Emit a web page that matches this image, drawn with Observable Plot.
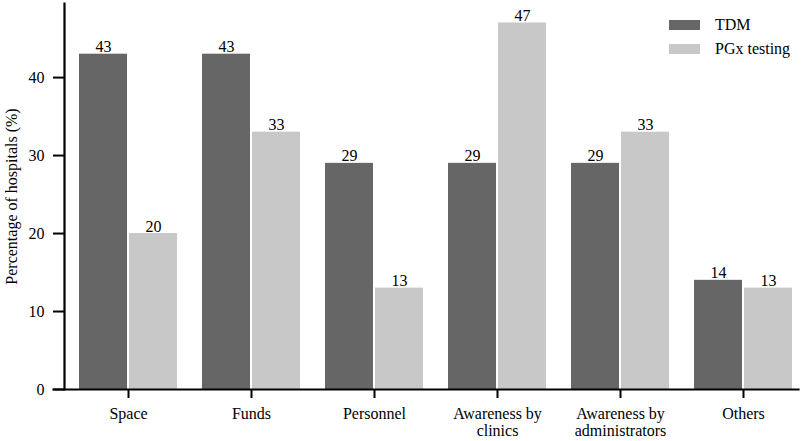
<!DOCTYPE html>
<html>
<head>
<meta charset="utf-8">
<script src="https://cdn.jsdelivr.net/npm/d3@7"></script>
<script src="https://cdn.jsdelivr.net/npm/@observablehq/plot@0.6"></script>
<style>
  body { margin: 0; background: #fff; }
  #wrap { position: relative; width: 809px; height: 441px; font-family: "Liberation Serif", "Times New Roman", serif; }
  #wrap svg, #wrap svg text, #wrap svg g { font-family: "Liberation Serif", "Times New Roman", serif !important; }
  #wrap svg text { font-size: 16px !important; }
  .legend { position: absolute; left: 669px; top: 13px; font-size: 16px; color: #000; }
  .legend .item { display: flex; align-items: center; height: 24px; }
  .legend .sw { width: 31px; height: 10px; margin-right: 15px; }
</style>
</head>
<body>
<div id="wrap"></div>
<script>
const categories = ["Space", "Funds", "Personnel", "Awareness by\nclinics", "Awareness by\nadministrators", "Others"];
const series = ["TDM", "PGx testing"];
const tdmValues = [43, 43, 29, 29, 29, 14];
const pgxValues = [20, 33, 13, 47, 33, 13];
const colors = ["#666666", "#c8c8c8"];
const yTicks = [0, 10, 20, 30, 40];

const data = [];
categories.forEach((c, i) => {
  data.push({category: c, series: series[0], value: tdmValues[i]});
  data.push({category: c, series: series[1], value: pgxValues[i]});
});

const font = "Liberation Serif";
const chart = Plot.plot({
  width: 809,
  height: 441,
  marginLeft: 79,
  marginRight: 16,
  marginTop: 3,
  marginBottom: 52,
  style: {fontFamily: font, fontSize: "16px", color: "#000", background: "#fff"},
  fx: {domain: categories, paddingInner: 0.2, paddingOuter: 0, label: null},
  x: {domain: series, paddingInner: 0.04, paddingOuter: 0, axis: null},
  y: {domain: [0, 49.5], label: null},
  color: {domain: series, range: colors},
  marks: [
    Plot.barY(data, {fx: "category", x: "series", y: "value", fill: "series"}),
    Plot.text(data, {fx: "category", x: "series", y: "value", text: d => String(d.value), lineAnchor: "bottom", dy: -2, fontSize: 16, fill: "#000"}),
    Plot.axisFx({anchor: "bottom", tickSize: 9, tickPadding: 9, fontSize: 16, lineHeight: 1.05, strokeWidth: 2, label: null}),
    Plot.axisY({ticks: yTicks, tickSize: 11, text: null, label: null, strokeWidth: 2, dx: -15}),
    Plot.axisY({ticks: yTicks, tickSize: 0, tickPadding: 35, fontSize: 16, label: "Percentage of hospitals (%)", labelAnchor: "center", labelArrow: "none", labelOffset: 74}),
    Plot.frame({anchor: "bottom", facet: "super", insetLeft: -26, insetRight: -6, strokeWidth: 2.2, stroke: "#000"}),
    Plot.frame({anchor: "left", facet: "super", dx: -15, strokeWidth: 2.2, stroke: "#000"})
  ]
});
const wrap = document.getElementById("wrap");
wrap.appendChild(chart);

const legend = document.createElement("div");
legend.className = "legend";
series.forEach((s, i) => {
  const item = document.createElement("div");
  item.className = "item";
  const sw = document.createElement("span");
  sw.className = "sw";
  sw.style.background = colors[i];
  const t = document.createElement("span");
  t.textContent = s;
  item.appendChild(sw);
  item.appendChild(t);
  legend.appendChild(item);
});
wrap.appendChild(legend);
</script>
</body>
</html>
